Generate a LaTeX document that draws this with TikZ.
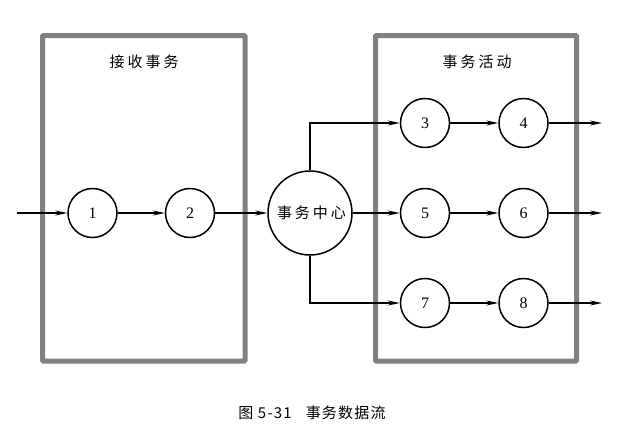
\documentclass[tikz,border=0pt]{standalone}
\usepackage{fontspec}
\setmainfont{Liberation Serif}
\newfontfamily\cjk[LetterSpace=20]{Noto Sans CJK SC}
\newfontfamily\cjkcap[LetterSpace=8]{Noto Sans CJK SC}
\usetikzlibrary{arrows.meta}
\definecolor{boxgray}{RGB}{128,128,128}
\begin{document}
\begin{tikzpicture}[x=1pt,y=-1pt,
  box/.style={draw=boxgray, line width=5pt, rounded corners=1pt},
  proc/.style={circle, draw, line width=1.5pt, minimum size=49pt, inner sep=0pt, font=\fontsize{16}{16}\selectfont},
  flow/.style={-{Stealth[length=12pt,width=5pt]}, line width=1.1pt},
  lbl/.style={font=\cjk\fontsize{15}{15}\selectfont, inner sep=0pt}]
\useasboundingbox (0,0) rectangle (619,432);
\draw[box] (42.5,35.5) rectangle (245,361);
\draw[box] (375.5,35.5) rectangle (576.5,361);
\node[lbl] (t1) at (144,62) {接收事务};
\node[lbl] (t2) at (477,62) {事务活动};
\node[proc] (n1) at (92.5,213) {1};
\node[proc] (n2) at (190,213) {2};
\node[proc, minimum size=84pt, font=\cjk\fontsize{15}{15}\selectfont] (c) at (310,213) {\hspace*{3pt}事务中心};
\node[proc] (n3) at (425,123) {3};
\node[proc] (n4) at (523.5,123) {4};
\node[proc] (n5) at (425,213) {5};
\node[proc] (n6) at (523.5,213) {6};
\node[proc] (n7) at (425,303) {7};
\node[proc] (n8) at (523.5,303) {8};
\coordinate (in) at (17,213);
\coordinate (o4) at (602,123);
\coordinate (o6) at (602,213);
\coordinate (o8) at (602,303);
\draw[flow] (in) -- (n1);
\draw[flow] (n1) -- (n2);
\draw[flow] (n2) -- (c);
\draw[flow] (c) -- (n5);
\draw[flow] (c.north) |- (n3);
\draw[flow] (c.south) |- (n7);
\draw[flow] (n3) -- (n4);
\draw[flow] (n5) -- (n6);
\draw[flow] (n7) -- (n8);
\draw[flow] (n4) -- (o4);
\draw[flow] (n6) -- (o6);
\draw[flow] (n8) -- (o8);
\node[font=\cjkcap\fontsize{15}{15}\selectfont, inner sep=0pt] (cap) at (312,413) {图 5-31\hspace{14pt}事务数据流};
\end{tikzpicture}
\end{document}
